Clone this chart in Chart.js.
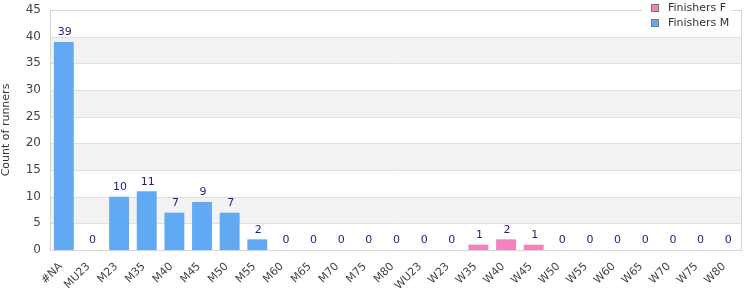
<!DOCTYPE html>
<html><head><meta charset="utf-8">
<script src="https://cdn.jsdelivr.net/npm/chart.js@4.4.1/dist/chart.umd.min.js"></script>
<style>html,body{margin:0;padding:0;background:#fff}#wrap{width:750px;height:300px}</style>
</head><body><div id="wrap"><canvas id="c" width="750" height="300"></canvas></div>
<script>
const categories = ["#NA","MU23","M23","M35","M40","M45","M50","M55","M60","M65","M70","M75","M80","WU23","W23","W35","W40","W45","W50","W55","W60","W65","W70","W75","W80"];
const finishersF = [0,0,0,0,0,0,0,0,0,0,0,0,0,0,0,1,2,1,0,0,0,0,0,0,0];
const finishersM = [39,0,10,11,7,9,7,2,0,0,0,0,0,0,0,0,0,0,0,0,0,0,0,0,0];
const yTicks = [0,5,10,15,20,25,30,35,40,45];

const FONT = "'DejaVu Sans', Verdana, sans-serif";

const bands = {
  id:'bands',
  beforeDatasetsDraw(chart){
    const {ctx, chartArea:a, scales:{y}} = chart;
    ctx.save();
    ctx.fillStyle = '#f2f2f2';
    for (let i=1;i<yTicks.length-1;i+=2){
      const y1 = y.getPixelForValue(yTicks[i]);
      const y2 = y.getPixelForValue(yTicks[i+1]);
      ctx.fillRect(a.left, y2, a.right-a.left, y1-y2);
    }
    ctx.strokeStyle = '#e0e0e0'; ctx.lineWidth = 1;
    yTicks.forEach(t=>{ const py=Math.round(y.getPixelForValue(t))+0.5; ctx.beginPath(); ctx.moveTo(a.left,py); ctx.lineTo(a.right,py); ctx.stroke();});
    ctx.restore();
  }
};

const frameAndLabels = {
  id:'frameAndLabels',
  afterDatasetsDraw(chart){
    const {ctx, chartArea:a, scales:{x,y}} = chart;
    ctx.save();
    ctx.strokeStyle = '#d6d6d6'; ctx.lineWidth = 1;
    ctx.strokeRect(Math.round(a.left)+0.5, Math.round(a.top)+0.5, Math.round(a.right-a.left), Math.round(a.bottom-a.top));
    ctx.fillStyle = '#1c1c8c';
    ctx.font = '11px ' + FONT;
    ctx.textAlign = 'center'; ctx.textBaseline = 'bottom';
    categories.forEach((c,i)=>{
      const tot = finishersF[i] + finishersM[i];
      const px = x.getPixelForValue(i);
      const py = y.getPixelForValue(tot) - 4;
      ctx.fillText(String(tot), px+1, py);
    });
    // legend
    const ds = chart.data.datasets;
    const lx = 645, lw = 90, lh = 30;
    ctx.fillStyle = '#fff';
    ctx.fillRect(lx-3, 0, lw, lh);
    ctx.textAlign='left'; ctx.textBaseline='middle'; ctx.font='11px '+FONT;
    ds.forEach((d,i)=>{
      const cy = 8 + i*15;
      ctx.fillStyle = d.backgroundColor;
      ctx.fillRect(lx+6, cy-4, 8, 8);
      ctx.strokeStyle='#777'; ctx.lineWidth=1;
      ctx.strokeRect(lx+6.5, cy-3.5, 7, 7);
      ctx.fillStyle='#333';
      ctx.fillText(d.label, lx+23, cy);
    });
    ctx.restore();
  }
};

new Chart(document.getElementById('c'), {
  type:'bar',
  data:{
    labels: categories,
    datasets:[
      {label:'Finishers F', data: finishersF, backgroundColor:'#f283bd', stack:'s', categoryPercentage:0.72, barPercentage:1},
      {label:'Finishers M', data: finishersM, backgroundColor:'#62a9f4', stack:'s', categoryPercentage:0.72, barPercentage:1}
    ]
  },
  options:{
    responsive:false, animation:false,
    layout:{padding:{left:0,right:9,top:10,bottom:0}},
    plugins:{legend:{display:false}, tooltip:{enabled:false}},
    scales:{
      x:{stacked:true, grid:{display:false, drawTicks:false}, border:{display:false},
         ticks:{color:'#444', font:{family:FONT,size:11}, maxRotation:45, minRotation:45, autoSkip:false, padding:10, labelOffset:-3},
         afterFit(s){ s.height = 50; }},
      y:{stacked:true, min:0, max:45, grid:{display:false, drawTicks:false}, border:{display:false},
         ticks:{stepSize:5, color:'#444', font:{family:FONT,size:12, lineHeight:0.8}, padding:9},
         title:{display:true, text:'Count of runners', color:'#333', font:{family:FONT,size:11}, padding:{top:0,bottom:4}},
         afterFit(s){ s.width = 50; s.paddingTop = 0; s.paddingBottom = 0; }}
    }
  },
  plugins:[bands, frameAndLabels]
});
</script></body></html>
